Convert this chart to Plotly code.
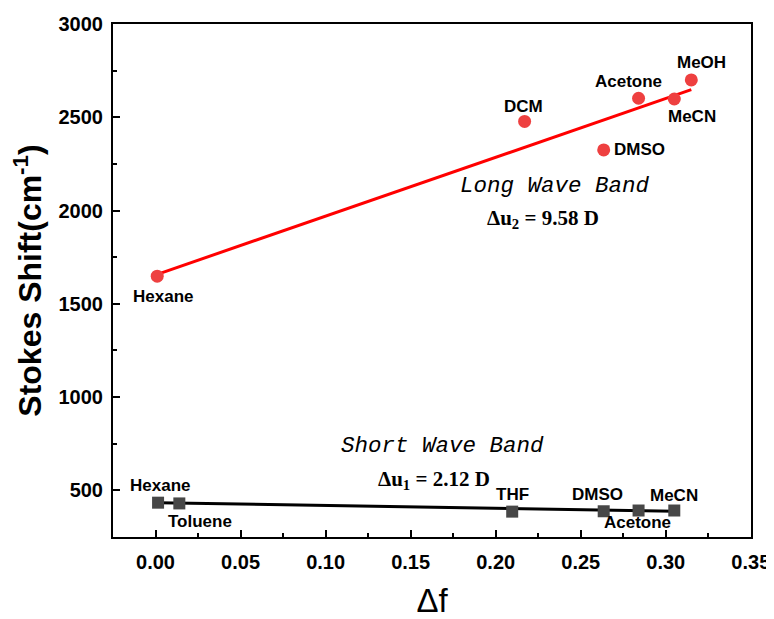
import plotly.graph_objects as go

# Long wave band (red circles)
long_solvents = ["Hexane", "DCM", "DMSO", "Acetone", "MeCN", "MeOH"]
long_df = [0.001, 0.217, 0.2635, 0.284, 0.305, 0.315]
long_shift = [1648, 2478, 2325, 2602, 2598, 2700]
long_fit_x = [0.001, 0.315]
long_fit_y = [1658, 2648]

# Short wave band (black squares)
short_solvents = ["Hexane", "Toluene", "THF", "DMSO", "Acetone", "MeCN"]
short_df = [0.0015, 0.014, 0.2097, 0.2635, 0.284, 0.305]
short_shift = [434, 430, 386, 388, 392, 392]
short_fit_x = [0.0015, 0.305]
short_fit_y = [434, 388]

x_ticks = [0.00, 0.05, 0.10, 0.15, 0.20, 0.25, 0.30, 0.35]
y_ticks = [500, 1000, 1500, 2000, 2500, 3000]

# label offsets in pixels (xshift, yshift)
long_offsets = [(6, -20), (-1, 15), (36, 0), (-10, 17), (18, -18), (10, 17)]
short_offsets = [(2, 17), (21, -18), (0, 17), (-6, 17), (-1, -12), (0, 15)]

fig = go.Figure()
fig.add_trace(go.Scatter(x=long_fit_x, y=long_fit_y, mode="lines",
                         line=dict(color="#FF0000", width=3), showlegend=False))
fig.add_trace(go.Scatter(x=long_df, y=long_shift, mode="markers",
                         marker=dict(symbol="circle", size=13, color="#EE4040"),
                         showlegend=False))
fig.add_trace(go.Scatter(x=short_fit_x, y=short_fit_y, mode="lines",
                         line=dict(color="#000000", width=3), showlegend=False))
fig.add_trace(go.Scatter(x=short_df, y=short_shift, mode="markers",
                         marker=dict(symbol="square", size=12, color="#474747"),
                         showlegend=False))

lab_font = dict(family="Liberation Sans, Arial", size=17, color="black")
for name, xv, yv, (dx, dy) in zip(long_solvents, long_df, long_shift, long_offsets):
    fig.add_annotation(x=xv, y=yv, text=f"<b>{name}</b>", showarrow=False,
                       xshift=dx, yshift=dy, font=lab_font)
for name, xv, yv, (dx, dy) in zip(short_solvents, short_df, short_shift, short_offsets):
    fig.add_annotation(x=xv, y=yv, text=f"<b>{name}</b>", showarrow=False,
                       xshift=dx, yshift=dy, font=lab_font)

band_font = dict(family="Liberation Mono, Courier New", size=22.5, color="black")
eq_font = dict(family="Liberation Serif, Times New Roman", size=21, color="black")
fig.add_annotation(x=0.2347, y=2134, text="<i>Long Wave Band</i>", showarrow=False, font=band_font)
fig.add_annotation(x=0.228, y=1955, text="<b>Δu<sub>2</sub> = 9.58 D</b>", showarrow=False, font=eq_font)
fig.add_annotation(x=0.169, y=736, text="<i>Short Wave Band</i>", showarrow=False, font=band_font)
fig.add_annotation(x=0.1635, y=555, text="<b>Δu<sub>1</sub> = 2.12 D</b>", showarrow=False, font=eq_font)

axis_common = dict(showline=True, linecolor="black", linewidth=2, mirror=True,
                   ticks="inside", tickcolor="black", tickwidth=1.5, ticklen=7,
                   showgrid=False, zeroline=False, automargin=False,
                   tickfont=dict(family="Liberation Sans, Arial", size=20, color="black"))

fig.update_xaxes(range=[-0.025, 0.3501], tickvals=x_ticks,
                 ticktext=[f"<b>{v:.2f}</b>" for v in x_ticks],
                 ticklabelstandoff=6,
                 minor=dict(ticks="inside", ticklen=4, tickcolor="black", dtick=0.025, tick0=0),
                 title=dict(text="Δf", font=dict(family="Liberation Sans, Arial", size=33, color="black"),
                            standoff=27),
                 **axis_common)
fig.update_yaxes(range=[250, 3000], tickvals=y_ticks,
                 ticktext=[f"<b>{v}</b>" for v in y_ticks],
                 ticklabelstandoff=4,
                 minor=dict(ticks="inside", ticklen=4, tickcolor="black", dtick=250, tick0=0),
                 title=dict(text="<b>Stokes Shift(cm<sup>-1</sup>)</b>",
                            font=dict(family="Liberation Sans, Arial", size=32, color="black"),
                            standoff=7),
                 **axis_common)

# the page adds an 8px body margin, so the figure is 8px smaller and shifted
fig.update_layout(width=766, height=611, plot_bgcolor="white", paper_bgcolor="white",
                  margin=dict(l=105, r=23, t=16, b=82))
fig.write_html("out.html")
